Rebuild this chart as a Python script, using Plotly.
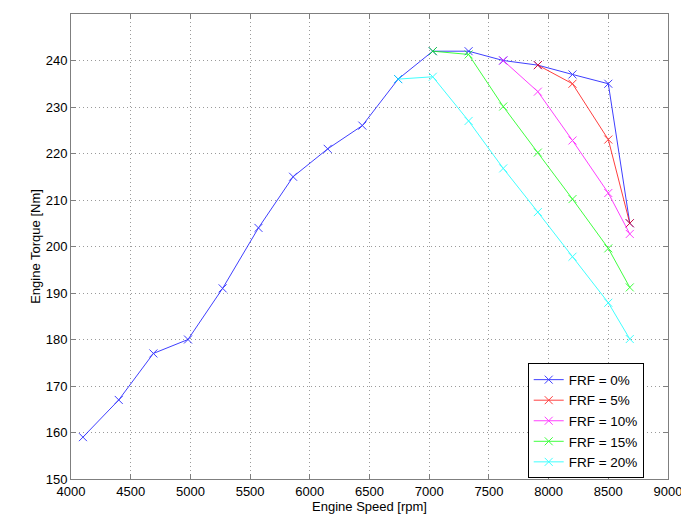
import plotly.graph_objects as go

speed = [4100, 4400, 4690, 4980, 5270, 5570, 5860, 6150, 6440, 6740, 7030, 7330, 7620, 7910, 8200, 8500, 8680]
torque_0 = [159, 167, 177, 180, 191, 204, 215, 221, 226, 236, 242, 242, 240, 239, 237, 235, 205]

speed_5 = [7910, 8200, 8500, 8680]
torque_5 = [239, 235, 223, 205]

speed_10 = [7620, 7910, 8200, 8500, 8680]
torque_10 = [240, 233.3, 222.8, 211.5, 202.7]

speed_15 = [7030, 7330, 7620, 7910, 8200, 8500, 8680]
torque_15 = [242, 241.3, 230.1, 220.2, 210.2, 199.6, 191.2]

speed_20 = [6740, 7030, 7330, 7620, 7910, 8200, 8500, 8680]
torque_20 = [236, 236.5, 227, 216.8, 207.4, 197.8, 187.9, 180.1]

series = [
    ("FRF = 0%", speed, torque_0, "#0000ff"),
    ("FRF = 5%", speed_5, torque_5, "#ff0000"),
    ("FRF = 10%", speed_10, torque_10, "#ff00ff"),
    ("FRF = 15%", speed_15, torque_15, "#00ff00"),
    ("FRF = 20%", speed_20, torque_20, "#00ffff"),
]

fig = go.Figure()
for name, xs, ys, c in series:
    fig.add_trace(go.Scatter(
        x=xs, y=ys, name=name, mode="lines+markers",
        line=dict(color=c, width=1),
        opacity=0.75,
        marker=dict(symbol="x-thin", size=8, color=c, line=dict(width=1, color=c)),
    ))

axis_common = dict(
    showgrid=True, griddash="1px,3px", gridcolor="#9a9a9a", gridwidth=1,
    showline=True, linecolor="#7f7f7f", linewidth=1, mirror="ticks",
    ticks="inside", ticklen=5, tickcolor="#7f7f7f",
    zeroline=False, automargin=False,
    tickfont=dict(family="Liberation Sans, Arial", size=13, color="#000"),
)

# the page body has an 8px margin, so the figure starts at (8, 8)
fig.update_layout(
    width=681, height=507,
    margin=dict(l=63, r=21, t=6, b=36),
    paper_bgcolor="white", plot_bgcolor="white",
    font=dict(family="Liberation Sans, Arial", size=13, color="#000"),
    xaxis=dict(range=[4000, 9000], dtick=500, tickformat="d",
               title=dict(text="Engine Speed [rpm]", standoff=0, font=dict(size=13)),
               **axis_common),
    yaxis=dict(range=[150, 250], dtick=10,
               title=dict(text="Engine Torque [Nm]", standoff=2, font=dict(size=13)),
               **axis_common),
    legend=dict(x=0.765, y=0.125, xanchor="left", yanchor="middle",
                bgcolor="white", bordercolor="#000", borderwidth=1,
                font=dict(size=13.5), tracegroupgap=0, itemwidth=30),
    showlegend=True,
)

fig.write_html("out.html")
